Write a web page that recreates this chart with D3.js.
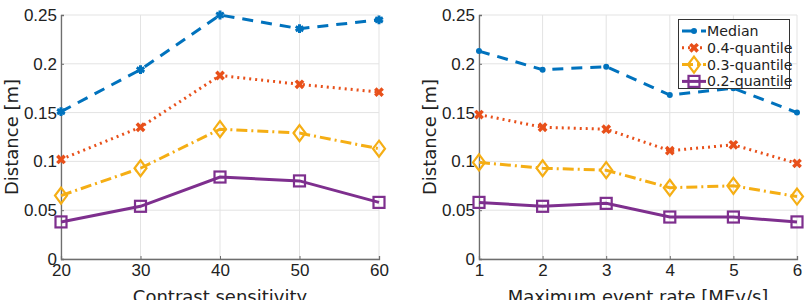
<!DOCTYPE html>
<html>
<head>
<meta charset="utf-8">
<script src="https://cdn.jsdelivr.net/npm/d3@7"></script>
<style>
  body { margin: 0; background: #fff; }
  svg { font-family: "DejaVu Sans", sans-serif; }
</style>
</head>
<body>
<div id="chart"></div>
<script>
// data
const seriesNames = ['Median', '0.4-quantile', '0.3-quantile', '0.2-quantile'];
const contrast = [20, 30, 40, 50, 60];
const contrastMedian = [0.151, 0.194, 0.250, 0.236, 0.245];
const contrastQ4 = [0.102, 0.135, 0.188, 0.179, 0.171];
const contrastQ3 = [0.065, 0.093, 0.133, 0.129, 0.113];
const contrastQ2 = [0.038, 0.054, 0.084, 0.080, 0.058];
const rate = [1, 2, 3, 4, 5, 6];
const rateMedian = [0.213, 0.194, 0.197, 0.168, 0.175, 0.150];
const rateQ4 = [0.148, 0.135, 0.133, 0.111, 0.117, 0.098];
const rateQ3 = [0.099, 0.093, 0.091, 0.073, 0.075, 0.064];
const rateQ2 = [0.058, 0.054, 0.057, 0.043, 0.043, 0.038];
const yTicks = [0, 0.05, 0.1, 0.15, 0.2, 0.25];

const colors = ['#0072BD', '#E8501A', '#F5AE14', '#7E2F8E'];
const dashes = ['11,8', '2,4', '11,4,2,4', null];

const W = 809, H = 300;
const svg = d3.select('#chart').append('svg').attr('width', W).attr('height', H);

const y = d3.scaleLinear().domain([0, 0.25]).range([259, 15]);

function marker(g, k, cx, cy, median) {
    const c = colors[k];
    if (k === 0) {
        if (median === 'star') {
            g.append('path').attr('transform', `translate(${cx},${cy})`)
                .attr('d', d3.symbol(d3.symbolAsterisk, 55)())
                .attr('fill', 'none').attr('stroke', c).attr('stroke-width', 3);
        } else {
            g.append('circle').attr('cx', cx).attr('cy', cy).attr('r', 3).attr('fill', c);
        }
    } else if (k === 1) {
        g.append('path').attr('transform', `translate(${cx},${cy}) rotate(45)`)
            .attr('d', d3.symbol(d3.symbolCross, 60)())
            .attr('fill', c);
    } else if (k === 2) {
        g.append('path').attr('d', `M${cx},${cy - 8}L${cx + 6},${cy}L${cx},${cy + 8}L${cx - 6},${cy}Z`)
            .attr('fill', 'none').attr('stroke', c).attr('stroke-width', 2.2);
    } else {
        g.append('rect').attr('x', cx - 5.5).attr('y', cy - 5.5).attr('width', 11).attr('height', 11)
            .attr('fill', 'none').attr('stroke', c).attr('stroke-width', 2.2);
    }
}

function panel(x0, x1, xs, series, xlabel, medianMarker, legend) {
    const x = d3.scaleLinear().domain(d3.extent(xs)).range([x0, x1]);
    const g = svg.append('g');

    // grid
    g.selectAll('.gx').data(xs).enter().append('line')
        .attr('x1', d => x(d)).attr('x2', d => x(d)).attr('y1', y(0)).attr('y2', y(0.25))
        .attr('stroke', '#e3e3e3').attr('stroke-width', 1);
    g.selectAll('.gy').data(yTicks).enter().append('line')
        .attr('x1', x0).attr('x2', x1).attr('y1', d => y(d)).attr('y2', d => y(d))
        .attr('stroke', '#e3e3e3').attr('stroke-width', 1);

    // axes
    const ax = g.append('g').attr('transform', `translate(0,${y(0)})`)
        .call(d3.axisBottom(x).tickValues(xs).tickSize(-3).tickPadding(8).tickFormat(d3.format('d')));
    const ay = g.append('g').attr('transform', `translate(${x0},0)`)
        .call(d3.axisLeft(y).tickValues(yTicks).tickSize(-3).tickPadding(4).tickFormat(d => String(d)));
    [ax, ay].forEach(a => {
        a.select('.domain').attr('stroke', '#6e6e6e').attr('stroke-width', 1.3);
        a.selectAll('.tick line').attr('stroke', '#6e6e6e');
        a.selectAll('.tick text').attr('fill', '#222').attr('font-size', 17);
    });
    ax.selectAll('.tick text').attr('dy', '0.55em');

    g.append('text').attr('x', (x0 + x1) / 2).attr('y', 303).attr('text-anchor', 'middle')
        .attr('font-size', 18).attr('fill', '#222').text(xlabel);
    g.append('text').attr('transform', `translate(${x0 - 43},${(y(0) + y(0.25)) / 2}) rotate(-90)`)
        .attr('text-anchor', 'middle').attr('font-size', 18).attr('fill', '#222').text('Distance [m]');

    const line = d3.line().x((d, i) => x(xs[i])).y(d => y(d));
    series.forEach((vals, k) => {
        g.append('path').attr('d', line(vals)).attr('fill', 'none')
            .attr('stroke', colors[k]).attr('stroke-width', 3)
            .attr('stroke-dasharray', dashes[k]);
        vals.forEach((v, i) => marker(g, k, x(xs[i]), y(v), medianMarker));
    });

    if (legend) {
        const lg = g.append('g');
        lg.append('rect').attr('x', 678.5).attr('y', 19.5).attr('width', 111).attr('height', 69)
            .attr('fill', '#fff').attr('stroke', '#333').attr('stroke-width', 1);
        seriesNames.forEach((name, k) => {
            const ly = 31 + k * 16.8;
            lg.append('line').attr('x1', 682).attr('x2', 706).attr('y1', ly).attr('y2', ly)
                .attr('stroke', colors[k]).attr('stroke-width', 3).attr('stroke-dasharray', dashes[k]);
            marker(lg, k, 694, ly, 'dot');
            lg.append('text').attr('x', 707).attr('y', ly).attr('dy', '0.35em')
                .attr('font-size', 14.2).attr('fill', '#222').text(name);
        });
    }
}

panel(61, 379, contrast, [contrastMedian, contrastQ4, contrastQ3, contrastQ2], 'Contrast sensitivity', 'star', false);
panel(479, 797, rate, [rateMedian, rateQ4, rateQ3, rateQ2], 'Maximum event rate [MEv/s]', 'dot', true);
</script>
</body>
</html>
